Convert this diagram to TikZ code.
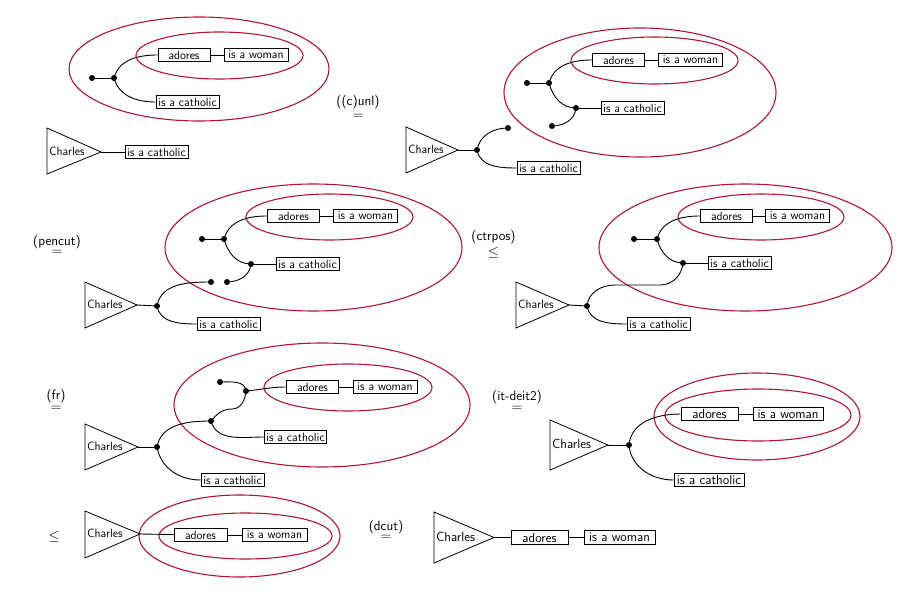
\documentclass[tikz,border=0pt]{standalone}
\usepackage{amsmath}
\definecolor{ellred}{RGB}{176,22,48}
\tikzset{
  box/.style={draw, line width=0.8pt, inner xsep=2pt, inner ysep=1.5pt, minimum height=12.5pt, font=\fontsize{12}{14}\selectfont\sffamily},
  bigbox/.style={box, minimum height=13.5pt, font=\fontsize{13.2}{15}\selectfont\sffamily},
  dot/.style={circle, fill=black, inner sep=0pt, minimum size=6pt},
  wire/.style={line width=0.9pt},
  ell/.style={draw=ellred, line width=1.1pt},
  tri/.style={draw, line width=0.8pt, line join=miter},
  chtext/.style={anchor=west, inner sep=0pt, font=\fontsize{12}{14}\selectfont\sffamily},
  bigchtext/.style={anchor=west, inner sep=0pt, font=\fontsize{13.2}{15}\selectfont\sffamily},
  lbl/.style={inner sep=0pt, font=\fontsize{13.5}{15}\selectfont\sffamily},
  rel/.style={inner sep=0pt, font=\fontsize{15.5}{17}\selectfont},
}
\begin{document}
\begin{tikzpicture}[x=1pt,y=-1pt]
\useasboundingbox (0,0) rectangle (903,594);

% ---------- Panel 1 ----------
\draw[ell] (199,69) ellipse [x radius=130, y radius=52];
\draw[ell] (219.5,55.5) ellipse [x radius=83.5, y radius=23.5];
\node[box, minimum width=52pt] (p1a) at (184,55) {adores};
\node[box, minimum width=64pt] (p1w) at (256,55) {is a woman};
\node[box, minimum width=63pt] (p1c) at (187.5,102) {is a catholic};
\node[dot] (p1d1) at (92,78) {};
\node[dot] (p1d2) at (114,78) {};
\draw[wire] (p1a) -- (p1w);
\draw[wire] (p1d1.center) -- (p1d2.center);
\draw[wire] (p1d2.center) to[out=75,in=180] (p1a.west);
\draw[wire] (p1d2.center) to[out=-75,in=180] (p1c.west);
\draw[tri] (47,128) -- (101,152) -- (47,174) -- cycle;
\coordinate (p1t) at (101,152);
\node[chtext] (p1ch) at (49,151) {Charles};
\node[box, minimum width=63pt] (p1c2) at (156.5,152) {is a catholic};
\draw[wire] (p1t) -- (p1c2);

% label 1
\node[lbl] (l1) at (358,102.5) {((c)unl)};
\node[rel] (r1) at (358,116.5) {$=$};

% ---------- Panel 2 ----------
\draw[ell] (640,92.5) ellipse [x radius=136, y radius=64.5];
\draw[ell] (654.5,60.5) ellipse [x radius=83.5, y radius=23.5];
\node[box, minimum width=52pt] (p2a) at (618.5,60) {adores};
\node[box, minimum width=64pt] (p2w) at (690.5,60) {is a woman};
\node[box, minimum width=63pt] (p2c) at (632.5,108) {is a catholic};
\node[dot] (p2d1) at (527,83) {};
\node[dot] (p2d2) at (549,83) {};
\node[dot] (p2d3) at (576,108) {};
\node[dot] (p2d4) at (552,126) {};
\node[dot] (p2d5) at (508,128) {};
\node[dot] (p2d6) at (477,150) {};
\draw[wire] (p2a) -- (p2w);
\draw[wire] (p2d1.center) -- (p2d2.center);
\draw[wire] (p2d2.center) to[out=75,in=180] (p2a.west);
\draw[wire] (p2d2.center) to[out=-75,in=180] (p2d3.center);
\draw[wire] (p2d3.center) -- (p2c.west);
\draw[wire] (p2d3.center) to[out=-95,in=0] (p2d4.center);
\draw[tri] (406,127) -- (458,150) -- (406,173) -- cycle;
\coordinate (p2t) at (458,150);
\node[chtext] (p2ch) at (408,149) {Charles};
\node[box, minimum width=63pt] (p2c2) at (548.5,168) {is a catholic};
\draw[wire] (p2t) -- (p2d6.center);
\draw[wire] (p2d6.center) to[out=80,in=180] (p2d5.center);
\draw[wire] (p2d6.center) to[out=-80,in=180] (p2c2.west);

% label 2
\node[lbl] (l2) at (57,242) {(pencut)};
\node[rel] (r2) at (57,253) {$=$};

% ---------- Panel 3 ----------
\draw[ell] (313.5,247.5) ellipse [x radius=148.5, y radius=63.5];
\draw[ell] (329.5,217) ellipse [x radius=83.5, y radius=23];
\node[box, minimum width=52pt] (p3a) at (293.5,216) {adores};
\node[box, minimum width=64pt] (p3w) at (365.5,216) {is a woman};
\node[box, minimum width=63pt] (p3c) at (307.5,264) {is a catholic};
\node[dot] (p3d1) at (202,239) {};
\node[dot] (p3d2) at (224,239) {};
\node[dot] (p3d3) at (251,264) {};
\node[dot] (p3d4) at (227,282) {};
\node[dot] (p3d5) at (211,282) {};
\node[dot] (p3d6) at (157,306) {};
\draw[wire] (p3a) -- (p3w);
\draw[wire] (p3d1.center) -- (p3d2.center);
\draw[wire] (p3d2.center) to[out=75,in=180] (p3a.west);
\draw[wire] (p3d2.center) to[out=-75,in=180] (p3d3.center);
\draw[wire] (p3d3.center) -- (p3c.west);
\draw[wire] (p3d3.center) to[out=-95,in=0] (p3d4.center);
\draw[tri] (85,282) -- (137,305) -- (85,328) -- cycle;
\coordinate (p3t) at (137,305);
\node[chtext] (p3ch) at (87,304) {Charles};
\node[box, minimum width=63pt] (p3c2) at (228.5,324) {is a catholic};
\draw[wire] (p3t) -- (p3d6.center);
\draw[wire] (p3d6.center) to[out=80,in=180] (p3d5.center);
\draw[wire] (p3d6.center) to[out=-80,in=180] (p3c2.west);

% label 3
\node[lbl] (l3) at (493.5,237) {(ctrpos)};
\node[rel] (r3) at (493.5,252.5) {$\leq$};

% ---------- Panel 4 ----------
\draw[ell] (745.5,247.5) ellipse [x radius=146.5, y radius=63.5];
\draw[ell] (761,217) ellipse [x radius=83, y radius=23];
\node[box, minimum width=52pt] (p4a) at (726.5,216) {adores};
\node[box, minimum width=64pt] (p4w) at (797.5,216) {is a woman};
\node[box, minimum width=63pt] (p4c) at (739.5,263) {is a catholic};
\node[dot] (p4d1) at (634,239) {};
\node[dot] (p4d2) at (657,239) {};
\node[dot] (p4d3) at (683,263) {};
\node[dot] (p4d6) at (587,306) {};
\coordinate (p4m1) at (615,285);
\coordinate (p4m2) at (660,285);
\draw[wire] (p4a) -- (p4w);
\draw[wire] (p4d1.center) -- (p4d2.center);
\draw[wire] (p4d2.center) to[out=75,in=180] (p4a.west);
\draw[wire] (p4d2.center) to[out=-75,in=180] (p4d3.center);
\draw[wire] (p4d3.center) -- (p4c.west);
\draw[tri] (516,282) -- (569,305) -- (516,328) -- cycle;
\coordinate (p4t) at (569,305);
\node[chtext] (p4ch) at (518,304) {Charles};
\node[box, minimum width=63pt] (p4c2) at (658.5,324) {is a catholic};
\draw[wire] (p4t) -- (p4d6.center);
\draw[wire] (p4d6.center) to[out=85,in=180] (p4m1) -- (p4m2) to[out=0,in=-95] (p4d3.center);
\draw[wire] (p4d6.center) to[out=-80,in=180] (p4c2.west);

% label 4
\node[lbl] (l4) at (56,396.5) {(fr)};
\node[rel] (r4) at (56,408.5) {$=$};

% ---------- Panel 5 ----------
\draw[ell] (322,405) ellipse [x radius=148, y radius=62];
\draw[ell] (348,387.5) ellipse [x radius=84, y radius=23.5];
\node[box, minimum width=52pt] (p5a) at (312.5,387) {adores};
\node[box, minimum width=64pt] (p5w) at (385,387) {is a woman};
\node[box, minimum width=62pt] (p5c) at (295.5,437) {is a catholic};
\node[dot] (p5d1) at (220,382) {};
\node[dot] (p5d2) at (246,391) {};
\node[dot] (p5d3) at (211,421) {};
\node[dot] (p5d6) at (157,447) {};
\coordinate (p5m) at (232,409);
\draw[wire] (p5a) -- (p5w);
\draw[wire] (p5d1.center) to[out=0,in=95] (p5d2.center);
\draw[wire] (p5d2.center) to[out=5,in=180] (p5a.west);
\draw[wire] (p5d3.center) to[out=50,in=180] (p5m) to[out=0,in=-95] (p5d2.center);
\draw[wire] (p5d3.center) to[out=-75,in=180] (p5c.west);
\draw[tri] (85,424) -- (138,447) -- (85,470) -- cycle;
\coordinate (p5t) at (138,447);
\node[chtext] (p5ch) at (87,446) {Charles};
\node[box, minimum width=63pt] (p5c2) at (232.5,480) {is a catholic};
\draw[wire] (p5t) -- (p5d6.center);
\draw[wire] (p5d6.center) to[out=80,in=180] (p5d3.center);
\draw[wire] (p5d6.center) to[out=-80,in=180] (p5c2.west);

% label 5
\node[lbl] (l5) at (517,397.5) {(it-deit2)};
\node[rel] (r5) at (517,409) {$=$};

% ---------- Panel 6 ----------
\draw[ell] (757,416.5) ellipse [x radius=103, y radius=43.5];
\draw[ell] (758,415) ellipse [x radius=93, y radius=26];
\node[bigbox, minimum width=57pt] (p6a) at (709.5,414) {adores};
\node[bigbox, minimum width=70pt] (p6w) at (788,414) {is a woman};
\node[bigbox, minimum width=70pt] (p6c) at (709,480) {is a catholic};
\node[dot] (p6d) at (629,445) {};
\draw[wire] (p6a) -- (p6w);
\draw[tri] (550,420) -- (608,445) -- (550,470) -- cycle;
\coordinate (p6t) at (608,445);
\node[bigchtext] (p6ch) at (552,444) {Charles};
\draw[wire] (p6t) -- (p6d.center);
\draw[wire] (p6d.center) to[out=85,in=180] (p6a.west);
\draw[wire] (p6d.center) to[out=-85,in=180] (p6c.west);

% label 6
\node[rel] (r6) at (54,537) {$\leq$};

% ---------- Panel 7 ----------
\draw[ell] (239.5,536) ellipse [x radius=100.5, y radius=41];
\draw[ell] (245.5,536) ellipse [x radius=86.5, y radius=23];
\node[box, minimum width=53pt] (p7a) at (200.5,535) {adores};
\node[box, minimum width=65pt] (p7w) at (274.5,535) {is a woman};
\draw[tri] (85,511) -- (140,534) -- (85,558) -- cycle;
\coordinate (p7t) at (140,534);
\node[chtext] (p7ch) at (87,533) {Charles};
\draw[wire] (p7t) -- (p7a);
\draw[wire] (p7a) -- (p7w);

% label 7
\node[lbl] (l7) at (386,527) {(dcut)};
\node[rel] (r7) at (386,538) {$=$};

% ---------- Panel 8 ----------
\draw[tri] (434,512) -- (494,537.5) -- (434,563) -- cycle;
\coordinate (p8t) at (494,537.5);
\node[bigchtext] (p8ch) at (436,536.5) {Charles};
\node[bigbox, minimum width=57pt] (p8a) at (539.5,537.5) {adores};
\node[bigbox, minimum width=71pt] (p8w) at (619.5,537.5) {is a woman};
\draw[wire] (p8t) -- (p8a);
\draw[wire] (p8a) -- (p8w);
\end{tikzpicture}
\end{document}
